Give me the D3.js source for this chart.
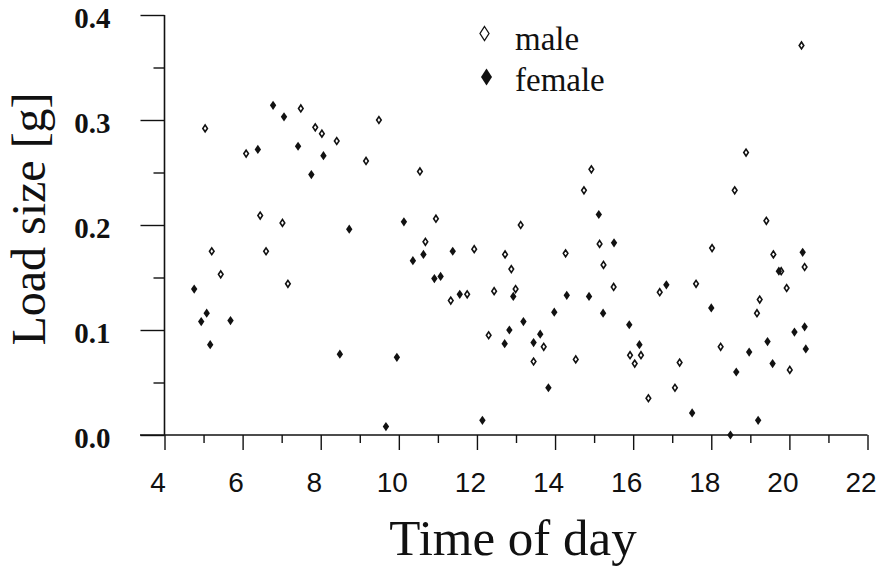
<!DOCTYPE html>
<html>
<head>
<meta charset="utf-8">
<script src="https://cdn.jsdelivr.net/npm/d3@7"></script>
<style>
  body { margin: 0; background: #fff; }
  svg { display: block; }
</style>
</head>
<body>
<div id="chart"></div>
<script>
// values: time of day (h) and load size (g)
var maleTime = [5.04, 6.09, 7.49, 7.86, 8.03, 8.41, 9.16, 9.49, 10.54, 14.93, 14.74, 20.31, 18.89, 18.60,
  6.45, 7.02, 5.21, 6.60, 5.44, 7.16, 10.95, 10.68, 11.93, 13.12, 12.72, 12.88, 14.27, 15.14, 15.24,
  11.33, 11.75, 12.44, 12.99, 15.50, 12.30, 13.71, 13.45, 14.53, 19.41, 18.02, 19.59, 20.39, 19.79,
  19.93, 16.68, 17.61, 19.24, 19.17, 15.92, 16.20, 16.04, 17.19, 18.24, 20.01, 17.07, 16.39];
var maleLoad = [0.292, 0.268, 0.311, 0.293, 0.287, 0.280, 0.261, 0.300, 0.251, 0.253, 0.233, 0.371, 0.269, 0.233,
  0.209, 0.202, 0.175, 0.175, 0.153, 0.144, 0.206, 0.184, 0.177, 0.200, 0.172, 0.158, 0.173, 0.182, 0.162,
  0.128, 0.134, 0.137, 0.139, 0.141, 0.095, 0.084, 0.070, 0.072, 0.204, 0.178, 0.172, 0.160, 0.156,
  0.140, 0.136, 0.144, 0.129, 0.116, 0.076, 0.076, 0.068, 0.069, 0.084, 0.062, 0.045, 0.035];

var femaleTime = [6.39, 6.78, 7.06, 7.42, 8.07, 7.76, 8.73, 4.76, 5.08, 4.94, 5.69, 5.17, 8.49, 9.67,
  10.13, 10.36, 10.63, 11.38, 15.12, 15.51, 10.91, 11.07, 11.56, 12.93, 14.30, 14.87, 13.98, 15.23,
  13.19, 12.83, 12.71, 13.62, 13.45, 9.95, 13.83, 12.14, 20.34, 19.73, 16.85, 18.00, 15.90, 16.16,
  19.44, 20.13, 20.39, 20.42, 18.97, 19.57, 18.64, 17.51, 19.20, 18.49];
var femaleLoad = [0.272, 0.314, 0.303, 0.275, 0.266, 0.248, 0.196, 0.139, 0.116, 0.108, 0.109, 0.086, 0.077, 0.008,
  0.203, 0.166, 0.172, 0.175, 0.210, 0.183, 0.149, 0.151, 0.134, 0.132, 0.133, 0.132, 0.117, 0.116,
  0.108, 0.100, 0.087, 0.096, 0.088, 0.074, 0.045, 0.014, 0.174, 0.156, 0.143, 0.121, 0.105, 0.086,
  0.089, 0.098, 0.103, 0.082, 0.079, 0.068, 0.060, 0.021, 0.014, 0.000];

var xMajor = [4, 6, 8, 10, 12, 14, 16, 18, 20, 22];
var xMinor = [5, 7, 9, 11, 13, 15, 17, 19, 21];
var yMajor = [0, 0.1, 0.2, 0.3, 0.4];
var yMinor = [0.05, 0.15, 0.25, 0.35];
var legendLabels = ["male", "female"];

var W = 881, H = 569;
var serif = "'Liberation Serif', 'Times New Roman', serif";
var sans = "'Liberation Sans', Arial, sans-serif";

var svg = d3.select("#chart").append("svg")
  .attr("width", W)
  .attr("height", H);

var x = d3.scaleLinear().domain([4, 22]).range([164.5, 867.5]);
var y = d3.scaleLinear().domain([0, 0.4]).range([435, 15]);

// diamond path centred at 0,0
function diamond(w, h) {
  return "M0," + (-h) + "L" + w + ",0L0," + h + "L" + (-w) + ",0Z";
}

// x axis
var gx = svg.append("g").attr("transform", "translate(0," + y(0) + ")");
gx.call(d3.axisBottom(x).tickValues(xMajor).tickSize(15).tickPadding(22).tickFormat(d3.format("d")));
gx.append("g").call(d3.axisBottom(x).tickValues(xMinor).tickSize(8).tickFormat(""));
gx.selectAll(".domain").remove();
gx.append("line").attr("x1", 140).attr("x2", x(22)).attr("stroke", "#111").attr("stroke-width", 1.6);
gx.selectAll(".tick line").attr("stroke", "#111").attr("stroke-width", 1.4);
gx.selectAll(".tick text")
  .attr("dx", -7)
  .attr("font-family", sans)
  .attr("font-size", "28px")
  .attr("fill", "#111");

// y axis
var gy = svg.append("g").attr("transform", "translate(" + x(4) + ",0)");
gy.call(d3.axisLeft(y).tickValues(yMajor).tickSize(24).tickPadding(30).tickFormat(d3.format(".1f")));
gy.append("g").call(d3.axisLeft(y).tickValues(yMinor).tickSize(11).tickFormat(""));
gy.selectAll(".domain").remove();
gy.append("line").attr("y1", y(0.4)).attr("y2", y(0)).attr("stroke", "#111").attr("stroke-width", 1.6);
gy.selectAll(".tick line").attr("stroke", "#111").attr("stroke-width", 1.4);
gy.selectAll(".tick text")
  .attr("dy", "0.42em")
  .attr("font-family", serif)
  .attr("font-weight", "bold")
  .attr("font-size", "29px")
  .attr("fill", "#111");

// axis titles
svg.append("text")
  .attr("x", 513).attr("y", 555)
  .attr("text-anchor", "middle")
  .attr("font-family", serif)
  .attr("font-size", "51px")
  .attr("fill", "#111")
  .text("Time of day");

svg.append("text")
  .attr("transform", "translate(45,219) rotate(-90)")
  .attr("text-anchor", "middle")
  .attr("font-family", serif)
  .attr("font-size", "48px")
  .attr("fill", "#111")
  .text("Load size [g]");

// points
var males = maleTime.map(function (t, i) { return { t: t, v: maleLoad[i] }; });
var females = femaleTime.map(function (t, i) { return { t: t, v: femaleLoad[i] }; });

svg.append("g").selectAll("path.male")
  .data(males)
  .enter().append("path")
  .attr("class", "male")
  .attr("transform", function (d) { return "translate(" + x(d.t) + "," + y(d.v) + ")"; })
  .attr("d", diamond(2.3, 3.4))
  .attr("fill", "#fff")
  .attr("stroke", "#111")
  .attr("stroke-width", 1.6);

svg.append("g").selectAll("path.female")
  .data(females)
  .enter().append("path")
  .attr("class", "female")
  .attr("transform", function (d) { return "translate(" + x(d.t) + "," + y(d.v) + ")"; })
  .attr("d", diamond(3.2, 4.6))
  .attr("fill", "#111");

// legend
var legend = svg.append("g");
legend.append("path")
  .attr("transform", "translate(484.5,33.5)")
  .attr("d", diamond(4.5, 7))
  .attr("fill", "#fff")
  .attr("stroke", "#111")
  .attr("stroke-width", 1.3);
legend.append("path")
  .attr("transform", "translate(486.5,77)")
  .attr("d", diamond(5.5, 8.5))
  .attr("fill", "#111");
legend.selectAll("text")
  .data(legendLabels)
  .enter().append("text")
  .attr("x", 515)
  .attr("y", function (d, i) { return i === 0 ? 50 : 91; })
  .attr("font-family", serif)
  .attr("font-size", "33px")
  .attr("fill", "#111")
  .text(function (d) { return d; });
</script>
</body>
</html>
